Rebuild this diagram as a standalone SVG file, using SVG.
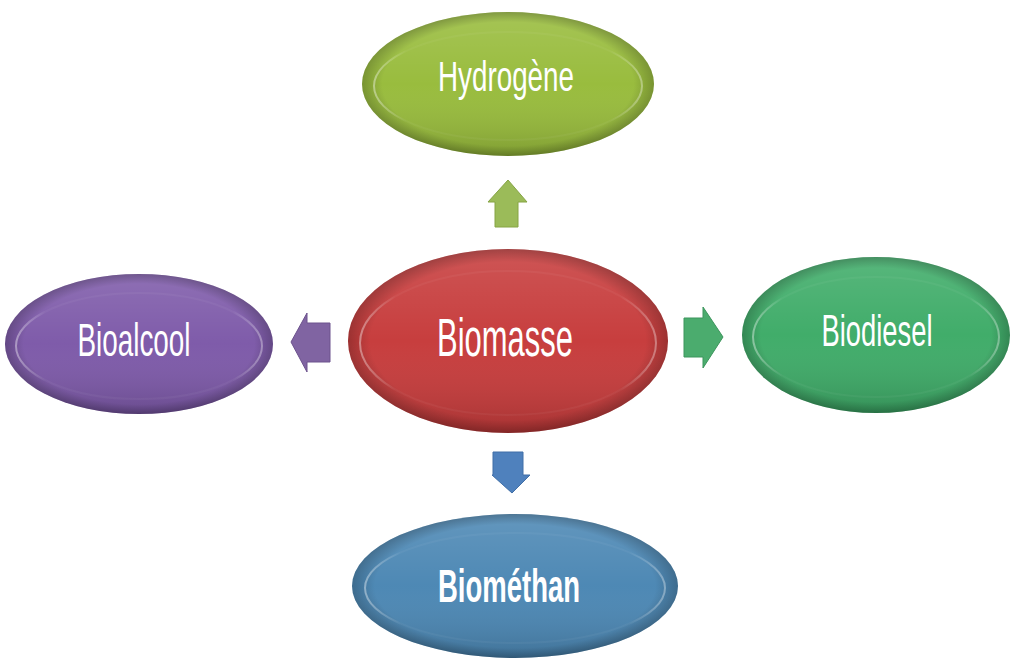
<svg xmlns="http://www.w3.org/2000/svg" width="1013" height="661" viewBox="0 0 1013 661">
<defs>
<linearGradient id="shade" x1="0" y1="0" x2="0" y2="1">
<stop offset="0" stop-color="#ffffff" stop-opacity="0.14"/>
<stop offset="0.5" stop-color="#ffffff" stop-opacity="0.02"/>
<stop offset="1" stop-color="#000000" stop-opacity="0.16"/>
</linearGradient>
<radialGradient id="edge" cx="0.5" cy="0.5" r="0.5">
<stop offset="0.86" stop-color="#000000" stop-opacity="0"/>
<stop offset="1" stop-color="#000000" stop-opacity="0.22"/>
</radialGradient>
<linearGradient id="rim" x1="0" y1="0" x2="1" y2="0">
<stop offset="0" stop-color="#ffffff" stop-opacity="0.4"/>
<stop offset="0.12" stop-color="#ffffff" stop-opacity="0.04"/>
<stop offset="0.88" stop-color="#ffffff" stop-opacity="0.04"/>
<stop offset="1" stop-color="#ffffff" stop-opacity="0.35"/>
</linearGradient>
</defs>
<style>
.ov{fill:url(#shade)}
.ed{fill:url(#edge)}
.rm{fill:none;stroke:url(#rim);stroke-width:2}
.lbl{font-family:"Liberation Sans",Arial,sans-serif;fill:#ffffff;text-anchor:middle}
.arr{stroke-width:1;stroke-linejoin:miter}
</style>
<g id="connectors">
<polygon class="arr" points="508,180 527,202 518,202 518,227 495,227 495,202 488,202" fill="#9bbb59" stroke="#86a445"/>
<polygon class="arr" points="291,342 307,313 307,323 330,323 330,362 307,362 307,372" fill="#8064a2" stroke="#6c528d"/>
<polygon class="arr" points="723,337 703,307 703,318 684,318 684,357 703,357 703,368" fill="#4bac6e" stroke="#3c955c"/>
<polygon class="arr" points="512,493 530,475 523,475 523,452 493,452 493,475 492,475" fill="#4f81bd" stroke="#416fa7"/>
</g>
<g id="node-hydrogene">
<ellipse cx="508" cy="84" rx="146" ry="72" fill="#97bb3a"/>
<ellipse cx="508" cy="84" rx="146" ry="72" class="ov"/>
<ellipse cx="508" cy="84" rx="146" ry="72" class="ed"/>
<ellipse cx="508" cy="86" rx="134" ry="54" class="rm"/>
<text class="lbl" x="506" y="91" font-size="43" textLength="136" lengthAdjust="spacingAndGlyphs">Hydrogène</text>
</g>
<g id="node-biomasse">
<ellipse cx="508" cy="341" rx="160" ry="92" fill="#c63a3a"/>
<ellipse cx="508" cy="341" rx="160" ry="92" class="ov"/>
<ellipse cx="508" cy="341" rx="160" ry="92" class="ed"/>
<ellipse cx="508" cy="343" rx="148" ry="72" class="rm"/>
<text class="lbl" x="505" y="356" font-size="53" textLength="136" lengthAdjust="spacingAndGlyphs">Biomasse</text>
</g>
<g id="node-bioalcool">
<ellipse cx="139" cy="344" rx="134" ry="70" fill="#7c58a8"/>
<ellipse cx="139" cy="344" rx="134" ry="70" class="ov"/>
<ellipse cx="139" cy="344" rx="134" ry="70" class="ed"/>
<ellipse cx="139" cy="346" rx="123" ry="53" class="rm"/>
<text class="lbl" x="134" y="356" font-size="47" textLength="113" lengthAdjust="spacingAndGlyphs">Bioalcool</text>
</g>
<g id="node-biodiesel">
<ellipse cx="876" cy="335" rx="134" ry="78" fill="#3dab67"/>
<ellipse cx="876" cy="335" rx="134" ry="78" class="ov"/>
<ellipse cx="876" cy="335" rx="134" ry="78" class="ed"/>
<ellipse cx="876" cy="337" rx="123" ry="60" class="rm"/>
<text class="lbl" x="877" y="346" font-size="45" textLength="111" lengthAdjust="spacingAndGlyphs">Biodiesel</text>
</g>
<g id="node-biomethan">
<ellipse cx="515" cy="586" rx="163" ry="72" fill="#4a86b3"/>
<ellipse cx="515" cy="586" rx="163" ry="72" class="ov"/>
<ellipse cx="515" cy="586" rx="163" ry="72" class="ed"/>
<ellipse cx="515" cy="588" rx="150" ry="55" class="rm"/>
<text class="lbl" x="509" y="602" font-size="47" font-weight="bold" textLength="142" lengthAdjust="spacingAndGlyphs">Biométhan</text>
</g>
</svg>
